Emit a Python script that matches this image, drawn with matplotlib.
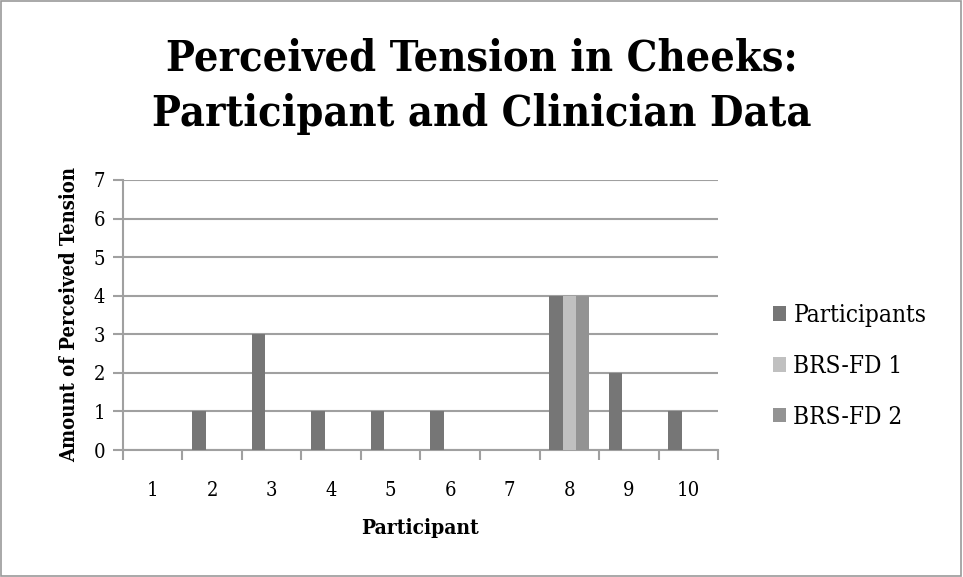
import numpy as np
import matplotlib as mpl
from matplotlib import pyplot as plt
from matplotlib.patches import Rectangle

participants = ['1', '2', '3', '4', '5', '6', '7', '8', '9', '10']
participant_vals = [0, 1, 3, 1, 1, 1, 0, 4, 2, 1]
brs_fd1_vals = [0, 0, 0, 0, 0, 0, 0, 4, 0, 0]
brs_fd2_vals = [0, 0, 0, 0, 0, 0, 0, 4, 0, 0]
series_names = ['Participants', 'BRS-FD 1', 'BRS-FD 2']
colors = ['#767676', '#c0c0c0', '#939393']

plt.rcParams['font.family'] = ['DejaVu Serif']
plt.rcParams['font.stretch'] = 'condensed'

fig = plt.figure(figsize=(9.63, 5.77), dpi=100)
ax = fig.add_axes([0.1277, 0.2201, 0.6179, 0.468])

x = np.arange(len(participants))
w = 1 / 4.5
for k, vals in enumerate([participant_vals, brs_fd1_vals, brs_fd2_vals]):
    ax.bar(x + (k - 1) * w, vals, width=w, color=colors[k], label=series_names[k], zorder=3)

ax.set_xlim(-0.5, len(participants) - 0.5)
ax.set_ylim(0, 7)
ax.set_yticks(range(8))
ax.set_yticklabels([str(v) for v in range(8)], fontsize=14.5)
ax.set_xticks(x)
ax.set_xticklabels(participants, fontsize=14.5)
ax.set_xticks(np.arange(-0.5, len(participants)), minor=True)
ax.tick_params(axis='x', which='major', length=0, pad=22)
ax.tick_params(axis='x', which='minor', length=7, width=1.5, color='#a0a0a0')
ax.tick_params(axis='y', length=7, width=1.5, color='#a0a0a0', pad=6)
ax.grid(axis='y', color='#a0a0a0', linewidth=1.5, zorder=0)
for s in ['top', 'right']:
    ax.spines[s].set_visible(False)
for s in ['left', 'bottom']:
    ax.spines[s].set_color('#a0a0a0')
    ax.spines[s].set_linewidth(1.5)

ax.set_xlabel('Participant', fontsize=15, fontweight='bold', labelpad=13)
ax.set_ylabel('Amount of Perceived Tension', fontsize=14.5, fontweight='bold', labelpad=10)

fig.suptitle('Perceived Tension in Cheeks:\nParticipant and Clinician Data',
             fontsize=31, fontweight='bold', y=0.935, linespacing=1.4)

ax.legend(loc='center left', bbox_to_anchor=(1.055, 0.31), frameon=False,
          prop={'family': 'DejaVu Serif', 'stretch': 'condensed', 'size': 17.5},
          handlelength=0.55, handleheight=0.55, handletextpad=0.3,
          labelspacing=1.15)

fig.patches.append(Rectangle((0.001, 0.001), 0.997, 0.997, transform=fig.transFigure,
                             fill=False, edgecolor='#999999', linewidth=1.2))

plt.savefig('out.png')
